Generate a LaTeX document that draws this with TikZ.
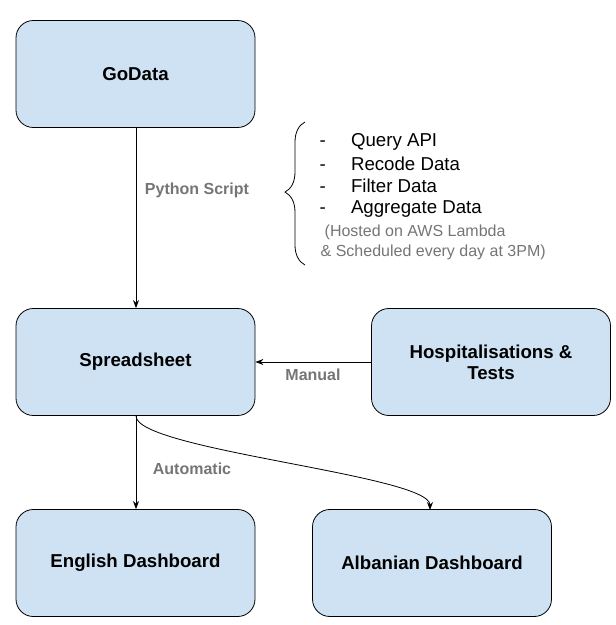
\documentclass[tikz,border=0pt]{standalone}
\usepackage{fontspec}
\setmainfont{Liberation Sans}
\usetikzlibrary{arrows.meta,decorations.pathreplacing}
\definecolor{boxfill}{HTML}{CFE2F3}
\definecolor{lbl}{HTML}{757575}
\begin{document}
\begin{tikzpicture}[x=0.75pt,y=-0.75pt,
  box/.style={draw=black,fill=boxfill,rounded corners=13pt,line width=0.6pt,
    minimum width=239*0.75pt,minimum height=107*0.75pt,align=center,
    font=\fontsize{14}{16}\selectfont\bfseries},
  conn/.style={line width=0.6pt,-{Stealth[length=6pt,width=4.5pt]}},
  lab/.style={text=lbl,font=\fontsize{12}{14}\selectfont\bfseries},
  item/.style={anchor=west,font=\fontsize{14}{16}\selectfont},
  note/.style={anchor=west,text=lbl,font=\fontsize{12}{14}\selectfont}]
\useasboundingbox (0,0) rectangle (615,625);
\node[box] (godata) at (135.5,74) {GoData};
\node[box] (sheet) at (135.5,362) {Spreadsheet};
\node[box] (hosp) at (491,362) {Hospitalisations \&\\Tests};
\node[box] (eng) at (135.5,563) {English Dashboard};
\node[box] (alb) at (432,563) {Albanian Dashboard};
\coordinate (s1) at (136,127);
\coordinate (s2) at (136,416);
\draw[conn] (godata.south -| s1) -- (sheet.north -| s1);
\draw[conn] (hosp.west) -- (sheet.east);
\draw[conn] (sheet.south -| s2) -- (eng.north -| s2);
\coordinate (a2) at (430,510);
\draw[conn] (s2) .. controls (136,450) and (430,475) .. (a2);
\node[lab] (py) at (197,190) {Python Script};
\node[lab] (man) at (313,375) {Manual};
\node[lab] (aut) at (192,469) {Automatic};
\coordinate (b1) at (305,122);
\coordinate (b2) at (305,265);
\draw[line width=0.6pt,decorate,decoration={brace,amplitude=15pt,aspect=0.51}] (b2) -- (b1);
\foreach \y/\t/\n in {142/Query API/i1,164/Recode Data/i2,186/Filter Data/i3,209/Aggregate Data/i4}{
  \node[item] (\n) at (315,\y) {\makebox[23.5pt][l]{-}\t};
}
\node[note] (n1) at (320,232) {(Hosted on AWS Lambda};
\node[note] (n2) at (316,252) {\& Scheduled every day at 3PM)};
\end{tikzpicture}
\end{document}
